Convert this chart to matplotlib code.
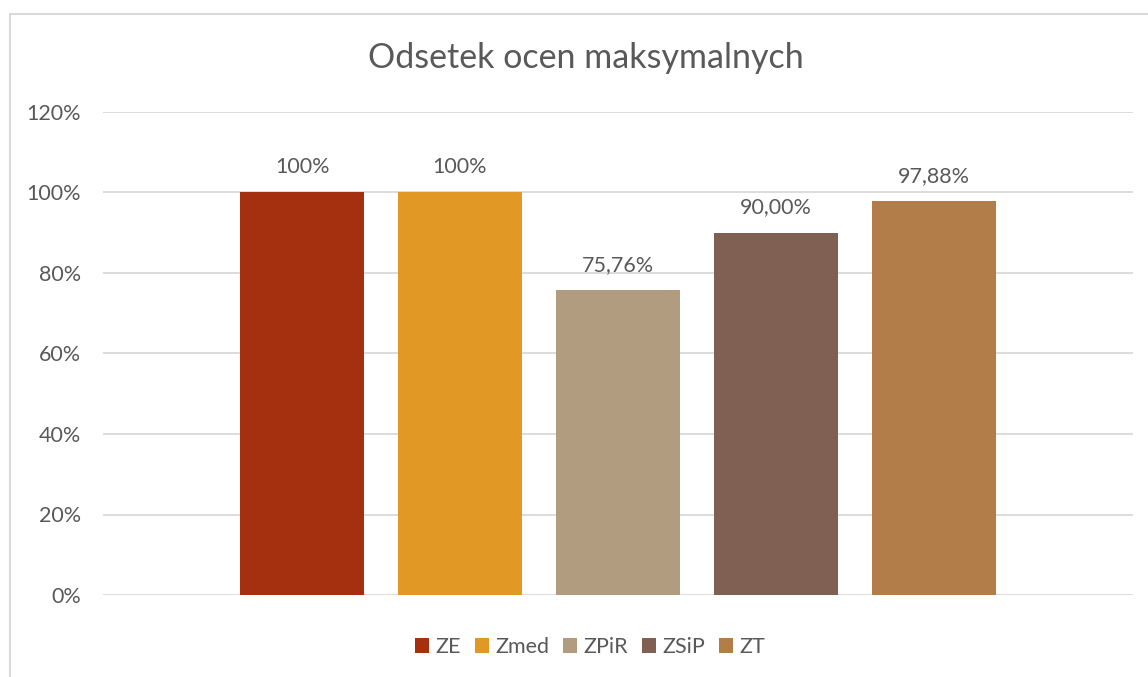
import matplotlib.pyplot as plt
from matplotlib.patches import Rectangle
from matplotlib.ticker import FuncFormatter

series = ["ZE", "Zmed", "ZPiR", "ZSiP", "ZT"]
values = [100.0, 100.0, 75.76, 90.00, 97.88]
labels = ["100%", "100%", "75,76%", "90,00%", "97,88%"]
colors = ["#A5300F", "#E19825", "#B29C7F", "#7F6052", "#B27D49"]

plt.rcParams['font.family'] = ['Lato', 'DejaVu Sans']
txt = "#595959"

fig = plt.figure(figsize=(11.48, 6.77), dpi=100)
ax = fig.add_axes([103 / 1148, 1 - 595 / 677, 1030 / 1148, 483 / 677])

# chart border (only left/top visible in the original)
fig.patches.append(Rectangle((10 / 1148, -0.1), 1.2, 1 - 14 / 677 + 0.1,
                             transform=fig.transFigure, fill=False,
                             edgecolor="#D9D9D9", linewidth=1.5))

for i, (s, v, c) in enumerate(zip(series, values, colors)):
    ax.bar(i, v, width=0.785, color=c, label=s, zorder=3)
    ax.text(i, v + 3.8, labels[i], ha="center", va="bottom", fontsize=15.5, color=txt)

ax.set_xlim(-1.26, 5.26)
ax.set_ylim(0, 120)
ax.set_yticks(range(0, 121, 20))
ax.yaxis.set_major_formatter(FuncFormatter(lambda y, _: f"{int(y)}%"))
ax.grid(axis="y", color="#D9D9D9", linewidth=1.3, zorder=0)
ax.set_xticks([])
for sp in ax.spines.values():
    sp.set_visible(False)
ax.tick_params(axis="y", length=0, labelsize=15.5, labelcolor=txt, pad=16)

fig.text(586 / 1148, 1 - 58 / 677, "Odsetek ocen maksymalnych", ha="center",
         va="center", fontsize=24.5, color=txt)

fig.legend(loc="center", bbox_to_anchor=(590 / 1148, 1 - 647 / 677), ncol=5,
           frameon=False, fontsize=15.5, labelcolor=txt, handlelength=0.65,
           handleheight=0.65, handletextpad=0.3, columnspacing=0.65)

plt.savefig("out.png", dpi=100)
plt.close()
